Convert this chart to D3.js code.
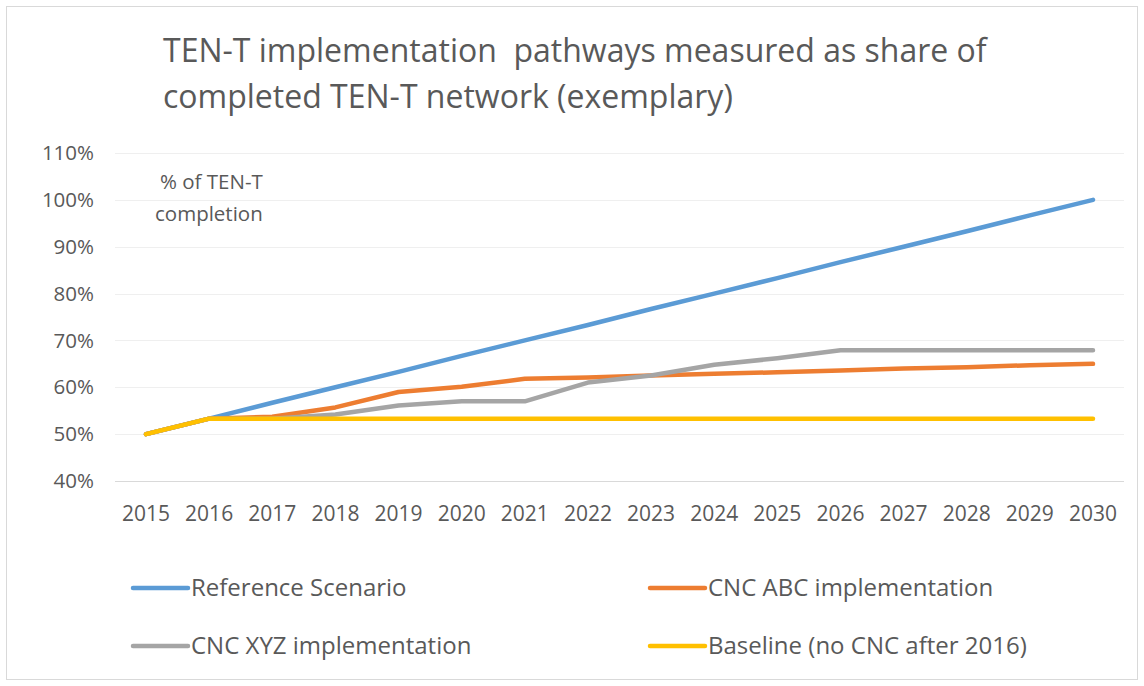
<!DOCTYPE html>
<html>
<head>
<meta charset="utf-8">
<script src="https://cdn.jsdelivr.net/npm/d3@7"></script>
<style>
  body { margin: 0; background: #fff; }
  svg { display: block; font-family: "Open Sans", Lato, sans-serif; }
</style>
</head>
<body>
<script>
const years = [2015, 2016, 2017, 2018, 2019, 2020, 2021, 2022, 2023, 2024, 2025, 2026, 2027, 2028, 2029, 2030];
const yTicks = [0.4, 0.5, 0.6, 0.7, 0.8, 0.9, 1.0, 1.1];

const referenceScenario = [0.50, 0.533, 0.567, 0.60, 0.633, 0.667, 0.70, 0.733, 0.767, 0.80, 0.833, 0.867, 0.90, 0.933, 0.967, 1.00];
const cncAbc = [0.50, 0.533, 0.537, 0.557, 0.590, 0.601, 0.618, 0.621, 0.625, 0.629, 0.632, 0.636, 0.640, 0.643, 0.647, 0.650];
const cncXyz = [0.50, 0.533, 0.533, 0.542, 0.561, 0.570, 0.570, 0.610, 0.625, 0.648, 0.662, 0.679, 0.679, 0.679, 0.679, 0.679];
const baseline = [0.50, 0.533, 0.533, 0.533, 0.533, 0.533, 0.533, 0.533, 0.533, 0.533, 0.533, 0.533, 0.533, 0.533, 0.533, 0.533];

const seriesNames = ["Reference Scenario", "CNC ABC implementation", "CNC XYZ implementation", "Baseline (no CNC after 2016)"];
const seriesColors = ["#5b9bd5", "#ed7d31", "#a5a5a5", "#ffc000"];
const seriesValues = [referenceScenario, cncAbc, cncXyz, baseline];

const width = 1144;
const height = 686;

const svg = d3.select('body')
  .append('svg')
  .attr('width', width)
  .attr('height', height);

// chart frame
svg.append('rect')
  .attr('x', 6.5).attr('y', 6.5)
  .attr('width', 1131).attr('height', 673)
  .attr('fill', '#fff')
  .attr('stroke', '#d9d9d9');

// title
const title = svg.append('text')
  .attr('fill', '#595959')
  .attr('font-size', 32)
  .style('white-space', 'pre');
title.append('tspan').attr('x', 163).attr('y', 62)
  .text('TEN-T implementation  pathways measured as share of');
title.append('tspan').attr('x', 163).attr('y', 108)
  .text('completed TEN-T network (exemplary)');

const xScale = d3.scalePoint()
  .domain(years)
  .range([146, 1093]);

const yScale = d3.scaleLinear()
  .domain([0.4, 1.1])
  .range([481, 153]);

// gridlines
svg.append('g')
  .selectAll('line')
  .data(yTicks)
  .enter()
  .append('line')
  .attr('x1', 115)
  .attr('x2', 1124)
  .attr('y1', (d) => Math.round(yScale(d)) + 0.5)
  .attr('y2', (d) => Math.round(yScale(d)) + 0.5)
  .attr('stroke', (d) => d === 0.4 ? '#d9d9d9' : '#efefef')
  .attr('stroke-width', 1);

// y axis labels
svg.append('g')
  .selectAll('text')
  .data(yTicks)
  .enter()
  .append('text')
  .attr('x', 94)
  .attr('y', (d) => yScale(d))
  .attr('dy', '0.35em')
  .attr('text-anchor', 'end')
  .attr('fill', '#595959')
  .attr('font-size', 20.5)
  .text((d) => d3.format('.0%')(d));

// x axis labels
svg.append('g')
  .selectAll('text')
  .data(years)
  .enter()
  .append('text')
  .attr('x', (d) => xScale(d))
  .attr('y', 514)
  .attr('dy', '0.35em')
  .attr('text-anchor', 'middle')
  .attr('fill', '#595959')
  .attr('font-size', 21)
  .text((d) => d);

// axis title inside plot
const axisTitle = svg.append('text')
  .attr('fill', '#595959')
  .attr('font-size', 20.5);
axisTitle.append('tspan').attr('x', 160).attr('y', 189).text('% of TEN-T');
axisTitle.append('tspan').attr('x', 155).attr('y', 221).text('completion');

// lines
const line = d3.line()
  .x((d, i) => xScale(years[i]))
  .y((d) => yScale(d));

svg.append('g')
  .selectAll('path')
  .data(seriesValues)
  .enter()
  .append('path')
  .attr('d', (d) => line(d))
  .attr('fill', 'none')
  .attr('stroke', (d, i) => seriesColors[i])
  .attr('stroke-width', 4.5)
  .attr('stroke-linejoin', 'round')
  .attr('stroke-linecap', 'round');

// legend
const legendPos = [
  {x: 133, y: 588},
  {x: 650, y: 588},
  {x: 133, y: 646},
  {x: 650, y: 646}
];

const legend = svg.append('g')
  .selectAll('g')
  .data(seriesNames)
  .enter()
  .append('g')
  .attr('transform', (d, i) => `translate(${legendPos[i].x}, ${legendPos[i].y})`);

legend.append('line')
  .attr('x1', 0).attr('x2', 55)
  .attr('y1', 0).attr('y2', 0)
  .attr('stroke', (d, i) => seriesColors[i])
  .attr('stroke-width', 4.5)
  .attr('stroke-linecap', 'round');

legend.append('text')
  .attr('x', 58)
  .attr('y', 0)
  .attr('dy', '0.35em')
  .attr('fill', '#595959')
  .attr('font-size', 24)
  .text((d) => d);
</script>
</body>
</html>
